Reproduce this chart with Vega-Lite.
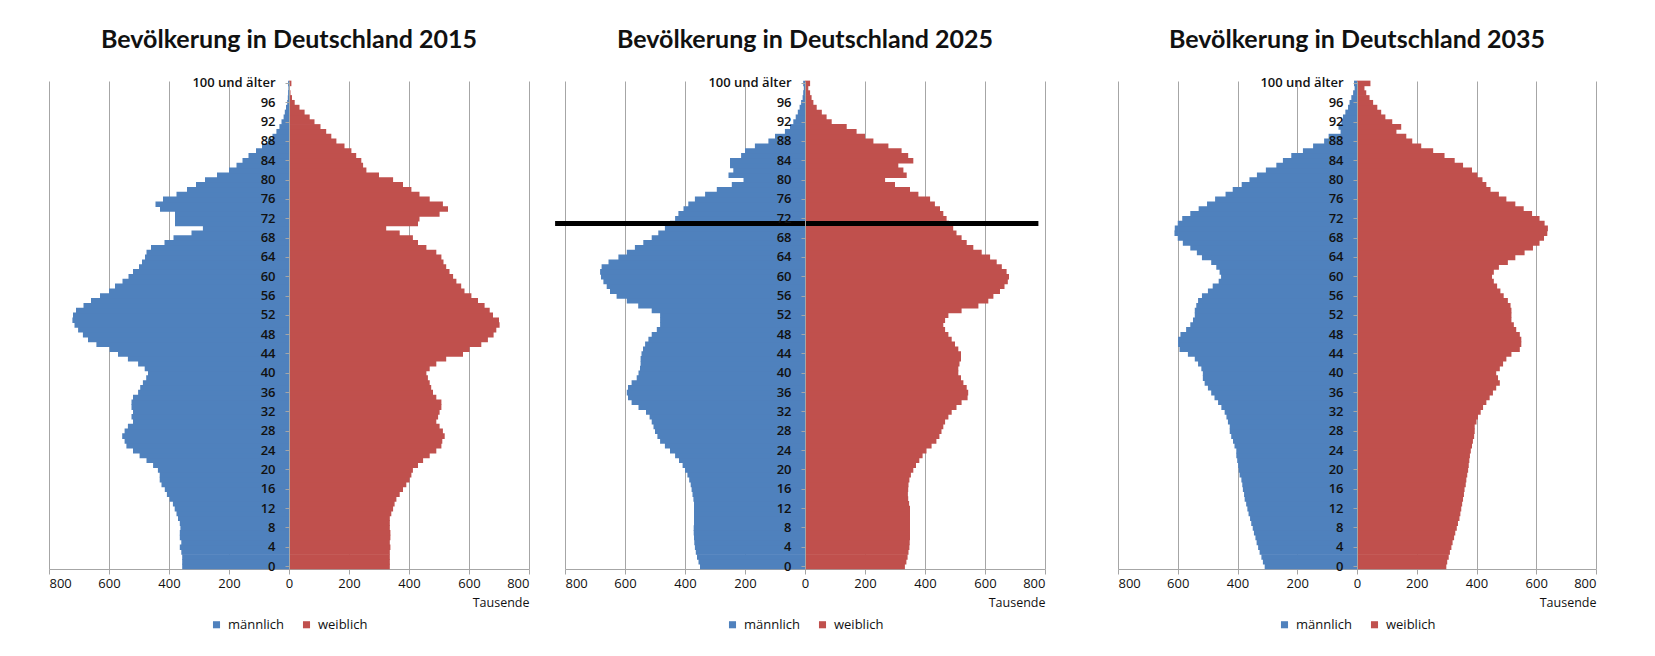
{
"$schema":"https://vega.github.io/schema/vega-lite/v6.json",
"background":"white",
"padding":{"left":48,"top":27,"right":4,"bottom":4},
"datasets":{"pop":[
{"Jahr":2015,"Alter":0,"männlich":-356,"weiblich":336},{"Jahr":2015,"Alter":1,"männlich":-356,"weiblich":336},{"Jahr":2015,"Alter":2,"männlich":-356,"weiblich":336},{"Jahr":2015,"Alter":3,"männlich":-359,"weiblich":336},{"Jahr":2015,"Alter":4,"männlich":-364,"weiblich":338},{"Jahr":2015,"Alter":5,"männlich":-359,"weiblich":336},{"Jahr":2015,"Alter":6,"männlich":-364,"weiblich":338},{"Jahr":2015,"Alter":7,"männlich":-364,"weiblich":338},{"Jahr":2015,"Alter":8,"männlich":-362,"weiblich":336},{"Jahr":2015,"Alter":9,"männlich":-364,"weiblich":336},
{"Jahr":2015,"Alter":10,"männlich":-370,"weiblich":336},{"Jahr":2015,"Alter":11,"männlich":-375,"weiblich":341},{"Jahr":2015,"Alter":12,"männlich":-381,"weiblich":347},{"Jahr":2015,"Alter":13,"männlich":-387,"weiblich":352},{"Jahr":2015,"Alter":14,"männlich":-398,"weiblich":358},{"Jahr":2015,"Alter":15,"männlich":-407,"weiblich":369},{"Jahr":2015,"Alter":16,"männlich":-414,"weiblich":380},{"Jahr":2015,"Alter":17,"männlich":-425,"weiblich":391},{"Jahr":2015,"Alter":18,"männlich":-431,"weiblich":402},{"Jahr":2015,"Alter":19,"männlich":-431,"weiblich":408},
{"Jahr":2015,"Alter":20,"männlich":-437,"weiblich":413},{"Jahr":2015,"Alter":21,"männlich":-453,"weiblich":430},{"Jahr":2015,"Alter":22,"männlich":-475,"weiblich":447},{"Jahr":2015,"Alter":23,"männlich":-498,"weiblich":469},{"Jahr":2015,"Alter":24,"männlich":-520,"weiblich":491},{"Jahr":2015,"Alter":25,"männlich":-542,"weiblich":508},{"Jahr":2015,"Alter":26,"männlich":-548,"weiblich":511},{"Jahr":2015,"Alter":27,"männlich":-556,"weiblich":519},{"Jahr":2015,"Alter":28,"männlich":-548,"weiblich":513},{"Jahr":2015,"Alter":29,"männlich":-537,"weiblich":502},
{"Jahr":2015,"Alter":30,"männlich":-520,"weiblich":491},{"Jahr":2015,"Alter":31,"männlich":-525,"weiblich":497},{"Jahr":2015,"Alter":32,"männlich":-520,"weiblich":502},{"Jahr":2015,"Alter":33,"männlich":-525,"weiblich":508},{"Jahr":2015,"Alter":34,"männlich":-525,"weiblich":508},{"Jahr":2015,"Alter":35,"männlich":-520,"weiblich":491},{"Jahr":2015,"Alter":36,"männlich":-503,"weiblich":480},{"Jahr":2015,"Alter":37,"männlich":-496,"weiblich":474},{"Jahr":2015,"Alter":38,"männlich":-487,"weiblich":469},{"Jahr":2015,"Alter":39,"männlich":-476,"weiblich":463},
{"Jahr":2015,"Alter":40,"männlich":-470,"weiblich":458},{"Jahr":2015,"Alter":41,"männlich":-481,"weiblich":469},{"Jahr":2015,"Alter":42,"männlich":-503,"weiblich":491},{"Jahr":2015,"Alter":43,"männlich":-537,"weiblich":524},{"Jahr":2015,"Alter":44,"männlich":-570,"weiblich":580},{"Jahr":2015,"Alter":45,"männlich":-598,"weiblich":602},{"Jahr":2015,"Alter":46,"männlich":-642,"weiblich":641},{"Jahr":2015,"Alter":47,"männlich":-670,"weiblich":663},{"Jahr":2015,"Alter":48,"männlich":-687,"weiblich":682},{"Jahr":2015,"Alter":49,"männlich":-703,"weiblich":691},
{"Jahr":2015,"Alter":50,"männlich":-715,"weiblich":702},{"Jahr":2015,"Alter":51,"männlich":-722,"weiblich":700},{"Jahr":2015,"Alter":52,"männlich":-720,"weiblich":680},{"Jahr":2015,"Alter":53,"männlich":-710,"weiblich":669},{"Jahr":2015,"Alter":54,"männlich":-685,"weiblich":652},{"Jahr":2015,"Alter":55,"männlich":-660,"weiblich":630},{"Jahr":2015,"Alter":56,"männlich":-630,"weiblich":608},{"Jahr":2015,"Alter":57,"männlich":-600,"weiblich":585},{"Jahr":2015,"Alter":58,"männlich":-580,"weiblich":574},{"Jahr":2015,"Alter":59,"männlich":-555,"weiblich":558},
{"Jahr":2015,"Alter":60,"männlich":-535,"weiblich":547},{"Jahr":2015,"Alter":61,"männlich":-520,"weiblich":535},{"Jahr":2015,"Alter":62,"männlich":-500,"weiblich":524},{"Jahr":2015,"Alter":63,"männlich":-490,"weiblich":515},{"Jahr":2015,"Alter":64,"männlich":-480,"weiblich":508},{"Jahr":2015,"Alter":65,"männlich":-475,"weiblich":491},{"Jahr":2015,"Alter":66,"männlich":-460,"weiblich":458},{"Jahr":2015,"Alter":67,"männlich":-415,"weiblich":430},{"Jahr":2015,"Alter":68,"männlich":-385,"weiblich":413},{"Jahr":2015,"Alter":69,"männlich":-325,"weiblich":369},
{"Jahr":2015,"Alter":70,"männlich":-287,"weiblich":324},{"Jahr":2015,"Alter":71,"männlich":-380,"weiblich":430},{"Jahr":2015,"Alter":72,"männlich":-380,"weiblich":435},{"Jahr":2015,"Alter":73,"männlich":-380,"weiblich":502},{"Jahr":2015,"Alter":74,"männlich":-430,"weiblich":530},{"Jahr":2015,"Alter":75,"männlich":-445,"weiblich":513},{"Jahr":2015,"Alter":76,"männlich":-420,"weiblich":469},{"Jahr":2015,"Alter":77,"männlich":-375,"weiblich":435},{"Jahr":2015,"Alter":78,"männlich":-340,"weiblich":408},{"Jahr":2015,"Alter":79,"männlich":-310,"weiblich":380},
{"Jahr":2015,"Alter":80,"männlich":-280,"weiblich":347},{"Jahr":2015,"Alter":81,"männlich":-240,"weiblich":300},{"Jahr":2015,"Alter":82,"männlich":-200,"weiblich":258},{"Jahr":2015,"Alter":83,"männlich":-175,"weiblich":247},{"Jahr":2015,"Alter":84,"männlich":-155,"weiblich":241},{"Jahr":2015,"Alter":85,"männlich":-135,"weiblich":224},{"Jahr":2015,"Alter":86,"männlich":-110,"weiblich":208},{"Jahr":2015,"Alter":87,"männlich":-90,"weiblich":185},{"Jahr":2015,"Alter":88,"männlich":-70,"weiblich":158},{"Jahr":2015,"Alter":89,"männlich":-55,"weiblich":141},
{"Jahr":2015,"Alter":90,"männlich":-42,"weiblich":124},{"Jahr":2015,"Alter":91,"männlich":-32,"weiblich":105},{"Jahr":2015,"Alter":92,"männlich":-25,"weiblich":85},{"Jahr":2015,"Alter":93,"männlich":-18,"weiblich":69},{"Jahr":2015,"Alter":94,"männlich":-14,"weiblich":52},{"Jahr":2015,"Alter":95,"männlich":-10,"weiblich":35},{"Jahr":2015,"Alter":96,"männlich":-6,"weiblich":19},{"Jahr":2015,"Alter":97,"männlich":-4,"weiblich":10},{"Jahr":2015,"Alter":98,"männlich":-3,"weiblich":5},{"Jahr":2015,"Alter":99,"männlich":-2,"weiblich":3},
{"Jahr":2015,"Alter":100,"männlich":-3,"weiblich":8},
{"Jahr":2025,"Alter":0,"männlich":-350,"weiblich":333},{"Jahr":2025,"Alter":1,"männlich":-355,"weiblich":338},{"Jahr":2025,"Alter":2,"männlich":-360,"weiblich":342},{"Jahr":2025,"Alter":3,"männlich":-364,"weiblich":345},{"Jahr":2025,"Alter":4,"männlich":-367,"weiblich":348},{"Jahr":2025,"Alter":5,"männlich":-369,"weiblich":349},{"Jahr":2025,"Alter":6,"männlich":-370,"weiblich":350},{"Jahr":2025,"Alter":7,"männlich":-371,"weiblich":350},{"Jahr":2025,"Alter":8,"männlich":-371,"weiblich":350},{"Jahr":2025,"Alter":9,"männlich":-370,"weiblich":350},
{"Jahr":2025,"Alter":10,"männlich":-370,"weiblich":350},{"Jahr":2025,"Alter":11,"männlich":-370,"weiblich":350},{"Jahr":2025,"Alter":12,"männlich":-370,"weiblich":350},{"Jahr":2025,"Alter":13,"männlich":-370,"weiblich":347},{"Jahr":2025,"Alter":14,"männlich":-372,"weiblich":344},{"Jahr":2025,"Alter":15,"männlich":-375,"weiblich":343},{"Jahr":2025,"Alter":16,"männlich":-378,"weiblich":344},{"Jahr":2025,"Alter":17,"männlich":-381,"weiblich":345},{"Jahr":2025,"Alter":18,"männlich":-386,"weiblich":348},{"Jahr":2025,"Alter":19,"männlich":-392,"weiblich":353},
{"Jahr":2025,"Alter":20,"männlich":-400,"weiblich":361},{"Jahr":2025,"Alter":21,"männlich":-408,"weiblich":370},{"Jahr":2025,"Alter":22,"männlich":-420,"weiblich":381},{"Jahr":2025,"Alter":23,"männlich":-433,"weiblich":392},{"Jahr":2025,"Alter":24,"männlich":-450,"weiblich":405},{"Jahr":2025,"Alter":25,"männlich":-467,"weiblich":422},{"Jahr":2025,"Alter":26,"männlich":-483,"weiblich":438},{"Jahr":2025,"Alter":27,"männlich":-492,"weiblich":448},{"Jahr":2025,"Alter":28,"männlich":-500,"weiblich":455},{"Jahr":2025,"Alter":29,"männlich":-505,"weiblich":461},
{"Jahr":2025,"Alter":30,"männlich":-511,"weiblich":467},{"Jahr":2025,"Alter":31,"männlich":-518,"weiblich":478},{"Jahr":2025,"Alter":32,"männlich":-530,"weiblich":489},{"Jahr":2025,"Alter":33,"männlich":-555,"weiblich":505},{"Jahr":2025,"Alter":34,"männlich":-578,"weiblich":522},{"Jahr":2025,"Alter":35,"männlich":-590,"weiblich":542},{"Jahr":2025,"Alter":36,"männlich":-594,"weiblich":544},{"Jahr":2025,"Alter":37,"männlich":-590,"weiblich":539},{"Jahr":2025,"Alter":38,"männlich":-578,"weiblich":528},{"Jahr":2025,"Alter":39,"männlich":-561,"weiblich":520},
{"Jahr":2025,"Alter":40,"männlich":-555,"weiblich":511},{"Jahr":2025,"Alter":41,"männlich":-550,"weiblich":511},{"Jahr":2025,"Alter":42,"männlich":-548,"weiblich":515},{"Jahr":2025,"Alter":43,"männlich":-548,"weiblich":520},{"Jahr":2025,"Alter":44,"männlich":-545,"weiblich":520},{"Jahr":2025,"Alter":45,"männlich":-540,"weiblich":511},{"Jahr":2025,"Alter":46,"männlich":-533,"weiblich":500},{"Jahr":2025,"Alter":47,"männlich":-522,"weiblich":489},{"Jahr":2025,"Alter":48,"männlich":-511,"weiblich":478},{"Jahr":2025,"Alter":49,"männlich":-494,"weiblich":467},
{"Jahr":2025,"Alter":50,"männlich":-483,"weiblich":461},{"Jahr":2025,"Alter":51,"männlich":-483,"weiblich":467},{"Jahr":2025,"Alter":52,"männlich":-483,"weiblich":478},{"Jahr":2025,"Alter":53,"männlich":-511,"weiblich":522},{"Jahr":2025,"Alter":54,"männlich":-556,"weiblich":578},{"Jahr":2025,"Alter":55,"männlich":-594,"weiblich":611},{"Jahr":2025,"Alter":56,"männlich":-628,"weiblich":628},{"Jahr":2025,"Alter":57,"männlich":-650,"weiblich":650},{"Jahr":2025,"Alter":58,"männlich":-661,"weiblich":665},{"Jahr":2025,"Alter":59,"männlich":-672,"weiblich":676},
{"Jahr":2025,"Alter":60,"männlich":-680,"weiblich":680},{"Jahr":2025,"Alter":61,"männlich":-683,"weiblich":672},{"Jahr":2025,"Alter":62,"männlich":-678,"weiblich":656},{"Jahr":2025,"Alter":63,"männlich":-655,"weiblich":639},{"Jahr":2025,"Alter":64,"männlich":-622,"weiblich":617},{"Jahr":2025,"Alter":65,"männlich":-594,"weiblich":589},{"Jahr":2025,"Alter":66,"männlich":-567,"weiblich":561},{"Jahr":2025,"Alter":67,"männlich":-539,"weiblich":539},{"Jahr":2025,"Alter":68,"männlich":-511,"weiblich":522},{"Jahr":2025,"Alter":69,"männlich":-489,"weiblich":505},
{"Jahr":2025,"Alter":70,"männlich":-467,"weiblich":494},{"Jahr":2025,"Alter":71,"männlich":-450,"weiblich":480},{"Jahr":2025,"Alter":72,"männlich":-433,"weiblich":472},{"Jahr":2025,"Alter":73,"männlich":-422,"weiblich":461},{"Jahr":2025,"Alter":74,"männlich":-405,"weiblich":450},{"Jahr":2025,"Alter":75,"männlich":-389,"weiblich":433},{"Jahr":2025,"Alter":76,"männlich":-367,"weiblich":417},{"Jahr":2025,"Alter":77,"männlich":-333,"weiblich":378},{"Jahr":2025,"Alter":78,"männlich":-294,"weiblich":350},{"Jahr":2025,"Alter":79,"männlich":-244,"weiblich":300},
{"Jahr":2025,"Alter":80,"männlich":-205,"weiblich":267},{"Jahr":2025,"Alter":81,"männlich":-255,"weiblich":339},{"Jahr":2025,"Alter":82,"männlich":-239,"weiblich":328},{"Jahr":2025,"Alter":83,"männlich":-250,"weiblich":311},{"Jahr":2025,"Alter":84,"männlich":-250,"weiblich":361},{"Jahr":2025,"Alter":85,"männlich":-213,"weiblich":344},{"Jahr":2025,"Alter":86,"männlich":-200,"weiblich":322},{"Jahr":2025,"Alter":87,"männlich":-167,"weiblich":278},{"Jahr":2025,"Alter":88,"männlich":-122,"weiblich":228},{"Jahr":2025,"Alter":89,"männlich":-100,"weiblich":200},
{"Jahr":2025,"Alter":90,"männlich":-67,"weiblich":172},{"Jahr":2025,"Alter":91,"männlich":-50,"weiblich":139},{"Jahr":2025,"Alter":92,"männlich":-39,"weiblich":89},{"Jahr":2025,"Alter":93,"männlich":-31,"weiblich":72},{"Jahr":2025,"Alter":94,"männlich":-24,"weiblich":56},{"Jahr":2025,"Alter":95,"männlich":-18,"weiblich":39},{"Jahr":2025,"Alter":96,"männlich":-13,"weiblich":28},{"Jahr":2025,"Alter":97,"männlich":-8,"weiblich":22},{"Jahr":2025,"Alter":98,"männlich":-6,"weiblich":17},{"Jahr":2025,"Alter":99,"männlich":-4,"weiblich":11},
{"Jahr":2025,"Alter":100,"männlich":-6,"weiblich":17},
{"Jahr":2035,"Alter":0,"männlich":-309,"weiblich":299},{"Jahr":2035,"Alter":1,"männlich":-315,"weiblich":302},{"Jahr":2035,"Alter":2,"männlich":-320,"weiblich":307},{"Jahr":2035,"Alter":3,"männlich":-326,"weiblich":311},{"Jahr":2035,"Alter":4,"männlich":-331,"weiblich":316},{"Jahr":2035,"Alter":5,"männlich":-336,"weiblich":320},{"Jahr":2035,"Alter":6,"männlich":-340,"weiblich":325},{"Jahr":2035,"Alter":7,"männlich":-345,"weiblich":329},{"Jahr":2035,"Alter":8,"männlich":-349,"weiblich":334},{"Jahr":2035,"Alter":9,"männlich":-354,"weiblich":338},
{"Jahr":2035,"Alter":10,"männlich":-358,"weiblich":343},{"Jahr":2035,"Alter":11,"männlich":-363,"weiblich":346},{"Jahr":2035,"Alter":12,"männlich":-367,"weiblich":349},{"Jahr":2035,"Alter":13,"männlich":-371,"weiblich":352},{"Jahr":2035,"Alter":14,"männlich":-376,"weiblich":355},{"Jahr":2035,"Alter":15,"männlich":-378,"weiblich":358},{"Jahr":2035,"Alter":16,"männlich":-382,"weiblich":360},{"Jahr":2035,"Alter":17,"männlich":-384,"weiblich":364},{"Jahr":2035,"Alter":18,"männlich":-387,"weiblich":366},{"Jahr":2035,"Alter":19,"männlich":-393,"weiblich":369},
{"Jahr":2035,"Alter":20,"männlich":-396,"weiblich":372},{"Jahr":2035,"Alter":21,"männlich":-398,"weiblich":374},{"Jahr":2035,"Alter":22,"männlich":-401,"weiblich":376},{"Jahr":2035,"Alter":23,"männlich":-404,"weiblich":378},{"Jahr":2035,"Alter":24,"männlich":-404,"weiblich":381},{"Jahr":2035,"Alter":25,"männlich":-410,"weiblich":385},{"Jahr":2035,"Alter":26,"männlich":-415,"weiblich":388},{"Jahr":2035,"Alter":27,"männlich":-421,"weiblich":392},{"Jahr":2035,"Alter":28,"männlich":-426,"weiblich":394},{"Jahr":2035,"Alter":29,"männlich":-426,"weiblich":394},
{"Jahr":2035,"Alter":30,"männlich":-432,"weiblich":400},{"Jahr":2035,"Alter":31,"männlich":-437,"weiblich":405},{"Jahr":2035,"Alter":32,"männlich":-443,"weiblich":414},{"Jahr":2035,"Alter":33,"männlich":-454,"weiblich":422},{"Jahr":2035,"Alter":34,"männlich":-465,"weiblich":433},{"Jahr":2035,"Alter":35,"männlich":-477,"weiblich":444},{"Jahr":2035,"Alter":36,"männlich":-488,"weiblich":455},{"Jahr":2035,"Alter":37,"männlich":-499,"weiblich":466},{"Jahr":2035,"Alter":38,"männlich":-510,"weiblich":478},{"Jahr":2035,"Alter":39,"männlich":-516,"weiblich":472},
{"Jahr":2035,"Alter":40,"männlich":-516,"weiblich":466},{"Jahr":2035,"Alter":41,"männlich":-521,"weiblich":478},{"Jahr":2035,"Alter":42,"männlich":-532,"weiblich":489},{"Jahr":2035,"Alter":43,"männlich":-543,"weiblich":500},{"Jahr":2035,"Alter":44,"männlich":-566,"weiblich":517},{"Jahr":2035,"Alter":45,"männlich":-594,"weiblich":545},{"Jahr":2035,"Alter":46,"männlich":-599,"weiblich":550},{"Jahr":2035,"Alter":47,"männlich":-599,"weiblich":550},{"Jahr":2035,"Alter":48,"männlich":-591,"weiblich":545},{"Jahr":2035,"Alter":49,"männlich":-572,"weiblich":533},
{"Jahr":2035,"Alter":50,"männlich":-558,"weiblich":525},{"Jahr":2035,"Alter":51,"männlich":-549,"weiblich":517},{"Jahr":2035,"Alter":52,"männlich":-543,"weiblich":517},{"Jahr":2035,"Alter":53,"männlich":-543,"weiblich":517},{"Jahr":2035,"Alter":54,"männlich":-538,"weiblich":514},{"Jahr":2035,"Alter":55,"männlich":-532,"weiblich":505},{"Jahr":2035,"Alter":56,"männlich":-519,"weiblich":491},{"Jahr":2035,"Alter":57,"männlich":-499,"weiblich":480},{"Jahr":2035,"Alter":58,"männlich":-483,"weiblich":469},{"Jahr":2035,"Alter":59,"männlich":-463,"weiblich":458},
{"Jahr":2035,"Alter":60,"männlich":-455,"weiblich":452},{"Jahr":2035,"Alter":61,"männlich":-460,"weiblich":458},{"Jahr":2035,"Alter":62,"männlich":-471,"weiblich":475},{"Jahr":2035,"Alter":63,"männlich":-488,"weiblich":505},{"Jahr":2035,"Alter":64,"männlich":-519,"weiblich":530},{"Jahr":2035,"Alter":65,"männlich":-536,"weiblich":561},{"Jahr":2035,"Alter":66,"männlich":-558,"weiblich":589},{"Jahr":2035,"Alter":67,"männlich":-583,"weiblich":611},{"Jahr":2035,"Alter":68,"männlich":-600,"weiblich":626},{"Jahr":2035,"Alter":69,"männlich":-611,"weiblich":637},
{"Jahr":2035,"Alter":70,"männlich":-610,"weiblich":639},{"Jahr":2035,"Alter":71,"männlich":-600,"weiblich":628},{"Jahr":2035,"Alter":72,"männlich":-585,"weiblich":611},{"Jahr":2035,"Alter":73,"männlich":-558,"weiblich":586},{"Jahr":2035,"Alter":74,"männlich":-530,"weiblich":558},{"Jahr":2035,"Alter":75,"männlich":-502,"weiblich":530},{"Jahr":2035,"Alter":76,"männlich":-475,"weiblich":500},{"Jahr":2035,"Alter":77,"männlich":-440,"weiblich":475},{"Jahr":2035,"Alter":78,"männlich":-416,"weiblich":447},{"Jahr":2035,"Alter":79,"männlich":-386,"weiblich":433},
{"Jahr":2035,"Alter":80,"männlich":-360,"weiblich":420},{"Jahr":2035,"Alter":81,"männlich":-335,"weiblich":403},{"Jahr":2035,"Alter":82,"männlich":-305,"weiblich":385},{"Jahr":2035,"Alter":83,"männlich":-270,"weiblich":355},{"Jahr":2035,"Alter":84,"männlich":-248,"weiblich":327},{"Jahr":2035,"Alter":85,"männlich":-220,"weiblich":293},{"Jahr":2035,"Alter":86,"männlich":-181,"weiblich":255},{"Jahr":2035,"Alter":87,"männlich":-147,"weiblich":215},{"Jahr":2035,"Alter":88,"männlich":-110,"weiblich":185},{"Jahr":2035,"Alter":89,"männlich":-95,"weiblich":165},
{"Jahr":2035,"Alter":90,"männlich":-55,"weiblich":132},{"Jahr":2035,"Alter":91,"männlich":-62,"weiblich":148},{"Jahr":2035,"Alter":92,"männlich":-52,"weiblich":118},{"Jahr":2035,"Alter":93,"männlich":-47,"weiblich":95},{"Jahr":2035,"Alter":94,"männlich":-39,"weiblich":81},{"Jahr":2035,"Alter":95,"männlich":-30,"weiblich":68},{"Jahr":2035,"Alter":96,"männlich":-25,"weiblich":54},{"Jahr":2035,"Alter":97,"männlich":-19,"weiblich":42},{"Jahr":2035,"Alter":98,"männlich":-13,"weiblich":31},{"Jahr":2035,"Alter":99,"männlich":-8,"weiblich":25},
{"Jahr":2035,"Alter":100,"männlich":-10,"weiblich":45}
]},
"hconcat":[
{"hconcat":[
{"width":480,"height":488,"title":"Bevölkerung in Deutschland 2015",
"data":{"name":"pop"},
"transform":[{"filter":"datum.Jahr == 2015"},{"fold":["männlich","weiblich"],"as":["Geschlecht","Wert"]}],
"mark":{"type":"bar","height":{"band":1.15}},
"encoding":{
"y":{"field":"Alter","type":"ordinal","sort":"descending","scale":{"paddingInner":0,"paddingOuter":0},"axis":{"values":[0,4,8,12,16,20,24,28,32,36,40,44,48,52,56,60,64,68,72,76,80,84,88,92,96,100],"labelExpr":"datum.value == 100 ? '100 und älter' : datum.label","offset":-240,"title":null,"zindex":1,"domainColor":"#a6a6a6","tickColor":"#a6a6a6","tickSize":4,"labelPadding":10,"labelFontWeight":600}},
"x":{"field":"Wert","type":"quantitative","stack":null,"scale":{"domain":[-800,800]},"axis":{"values":[-800,-600,-400,-200,0,200,400,600,800],"labelExpr":"abs(datum.value)","title":"Tausende","titleAnchor":"end","grid":true,"gridColor":"#a6a6a6","domainColor":"#a6a6a6","tickColor":"#a6a6a6","tickSize":5,"labelPadding":3,"titlePadding":6}},
"color":{"field":"Geschlecht","type":"nominal","scale":{"domain":["männlich","weiblich"],"range":["#4f81bd","#c0504d"]},"legend":{"orient":"bottom","direction":"horizontal","title":null,"symbolType":"square","symbolSize":50,"columnPadding":16,"labelOffset":5,"offset":9}}
}},
{"width":480,"height":488,"title":"Bevölkerung in Deutschland 2025",
"layer":[
{"data":{"name":"pop"},
"transform":[{"filter":"datum.Jahr == 2025"},{"fold":["männlich","weiblich"],"as":["Geschlecht","Wert"]}],
"mark":{"type":"bar","height":{"band":1.15}},
"encoding":{
"y":{"field":"Alter","type":"ordinal","sort":"descending","scale":{"paddingInner":0,"paddingOuter":0},"axis":{"values":[0,4,8,12,16,20,24,28,32,36,40,44,48,52,56,60,64,68,72,76,80,84,88,92,96,100],"labelExpr":"datum.value == 100 ? '100 und älter' : datum.label","offset":-240,"title":null,"zindex":1,"domainColor":"#a6a6a6","tickColor":"#a6a6a6","tickSize":4,"labelPadding":10,"labelFontWeight":600}},
"x":{"field":"Wert","type":"quantitative","stack":null,"scale":{"domain":[-800,800]},"axis":{"values":[-800,-600,-400,-200,0,200,400,600,800],"labelExpr":"abs(datum.value)","title":"Tausende","titleAnchor":"end","grid":true,"gridColor":"#a6a6a6","domainColor":"#a6a6a6","tickColor":"#a6a6a6","tickSize":5,"labelPadding":3,"titlePadding":6}},
"color":{"field":"Geschlecht","type":"nominal","scale":{"domain":["männlich","weiblich"],"range":["#4f81bd","#c0504d"]},"legend":{"orient":"bottom","direction":"horizontal","title":null,"symbolType":"square","symbolSize":50,"columnPadding":16,"labelOffset":5,"offset":9}}
}},
{"data":{"values":[{"Alter":71,"von":-833,"bis":778}]},
"mark":{"type":"rule","color":"black","strokeWidth":5},
"encoding":{
"y":{"field":"Alter","type":"ordinal","sort":"descending","bandPosition":0.5},
"x":{"field":"von","type":"quantitative"},
"x2":{"field":"bis"}
}}
]}
],"spacing":22,"resolve":{"scale":{"color":"independent"},"legend":{"color":"independent"}}},
{"width":478,"height":488,"title":"Bevölkerung in Deutschland 2035",
"data":{"name":"pop"},
"transform":[{"filter":"datum.Jahr == 2035"},{"fold":["männlich","weiblich"],"as":["Geschlecht","Wert"]}],
"mark":{"type":"bar","height":{"band":1.15}},
"encoding":{
"y":{"field":"Alter","type":"ordinal","sort":"descending","scale":{"paddingInner":0,"paddingOuter":0},"axis":{"values":[0,4,8,12,16,20,24,28,32,36,40,44,48,52,56,60,64,68,72,76,80,84,88,92,96,100],"labelExpr":"datum.value == 100 ? '100 und älter' : datum.label","offset":-239,"title":null,"zindex":1,"domainColor":"#a6a6a6","tickColor":"#a6a6a6","tickSize":4,"labelPadding":10,"labelFontWeight":600}},
"x":{"field":"Wert","type":"quantitative","stack":null,"scale":{"domain":[-800,800]},"axis":{"values":[-800,-600,-400,-200,0,200,400,600,800],"labelExpr":"abs(datum.value)","title":"Tausende","titleAnchor":"end","grid":true,"gridColor":"#a6a6a6","domainColor":"#a6a6a6","tickColor":"#a6a6a6","tickSize":5,"labelPadding":3,"titlePadding":6}},
"color":{"field":"Geschlecht","type":"nominal","scale":{"domain":["männlich","weiblich"],"range":["#4f81bd","#c0504d"]},"legend":{"orient":"bottom","direction":"horizontal","title":null,"symbolType":"square","symbolSize":50,"columnPadding":16,"labelOffset":5,"offset":9}}
}}
],
"spacing":71,
"resolve":{"scale":{"color":"independent"},"legend":{"color":"independent"}},
"config":{
"font":"Open Sans",
"view":{"stroke":null},
"bar":{"strokeWidth":0},
"title":{"font":"Lato","fontSize":25,"fontWeight":"bold","color":"#111111","offset":24,"anchor":"middle"},
"axis":{"labelFont":"Open Sans","labelFontSize":13,"labelColor":"#111111","titleFont":"Open Sans","titleFontWeight":"normal","titleFontSize":12.5,"titleColor":"#111111"},
"legend":{"labelFont":"Open Sans","labelFontSize":13,"labelColor":"#111111","layout":{"bottom":{"anchor":"middle"}}}
}
}
